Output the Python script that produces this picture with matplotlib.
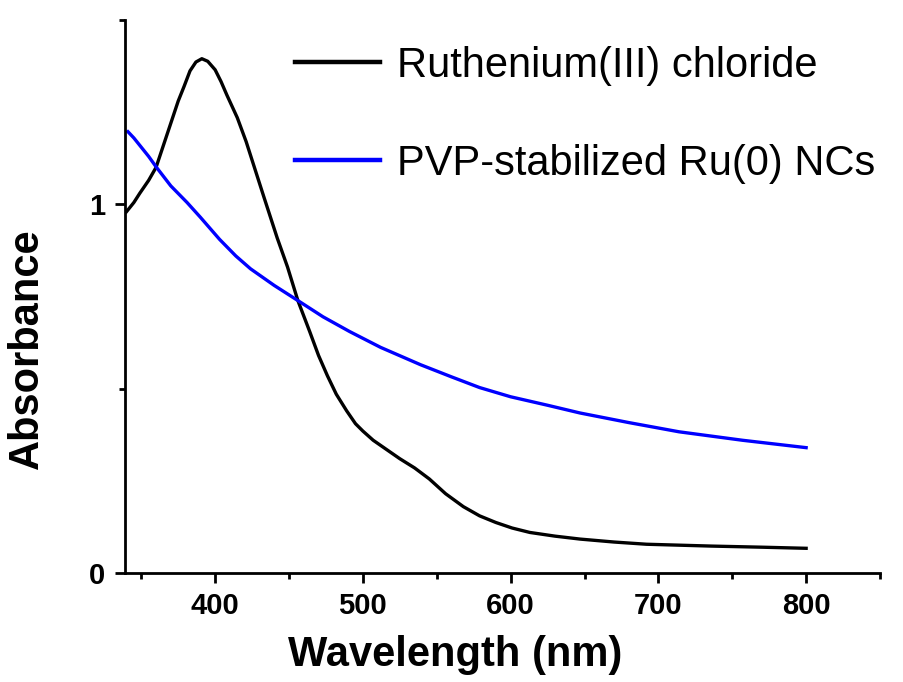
import numpy as np
import matplotlib
matplotlib.use("Agg")
import matplotlib.pyplot as plt
from matplotlib.ticker import MultipleLocator

# values
ru_cl3_wl = [340, 345, 349, 355, 360, 365, 370, 375, 379, 383, 387, 391, 395, 400, 404,
             408, 415, 421, 427, 433, 442, 449, 456, 464, 470, 476, 482, 489, 495, 500,
             507, 516, 525, 535, 545, 556, 568, 579, 590, 601, 613, 630, 647, 670, 692,
             736, 770, 800]
ru_cl3_abs = [0.98, 1.005, 1.03, 1.065, 1.10, 1.16, 1.22, 1.28, 1.32, 1.362, 1.386, 1.395,
              1.388, 1.365, 1.333, 1.296, 1.235, 1.17, 1.095, 1.02, 0.909, 0.83, 0.739,
              0.655, 0.59, 0.535, 0.485, 0.44, 0.405, 0.385, 0.36, 0.335, 0.31, 0.285,
              0.255, 0.215, 0.18, 0.155, 0.137, 0.122, 0.11, 0.10, 0.092, 0.084, 0.078,
              0.073, 0.07, 0.067]

ru_nc_wl = [341, 345, 349, 355, 360, 370, 381, 390, 403, 414, 424, 440, 456, 473, 491,
            512, 539, 560, 579, 600, 625, 647, 680, 714, 757, 800]
ru_nc_abs = [1.197, 1.18, 1.16, 1.13, 1.102, 1.05, 1.005, 0.965, 0.905, 0.86, 0.825, 0.78,
             0.739, 0.695, 0.655, 0.612, 0.565, 0.532, 0.503, 0.478, 0.455, 0.434, 0.408,
             0.383, 0.36, 0.34]

labels = ["Ruthenium(III) chloride", "PVP-stabilized Ru(0) NCs"]

plt.rcParams["font.family"] = ["Liberation Sans", "DejaVu Sans"]

fig = plt.figure(figsize=(9.04, 6.82), dpi=100)
ax = fig.add_axes([125 / 904, 1 - 573 / 682, 755 / 904, 553 / 682])

ax.plot(ru_cl3_wl, ru_cl3_abs, color="black", lw=2.4, label=labels[0])
ax.plot(ru_nc_wl, ru_nc_abs, color="#0000ff", lw=2.4, label=labels[1])

ax.set_xlim(339, 850)
ax.set_ylim(0, 1.5)

# only left and bottom axes
for side in ["top", "right"]:
    ax.spines[side].set_visible(False)
for side in ["left", "bottom"]:
    ax.spines[side].set_linewidth(2.0)

ax.xaxis.set_major_locator(MultipleLocator(100))
ax.xaxis.set_minor_locator(MultipleLocator(50))
ax.yaxis.set_major_locator(MultipleLocator(1))
ax.yaxis.set_minor_locator(MultipleLocator(0.5))
ax.tick_params(which="major", direction="out", length=7, width=2.0, labelsize=21, pad=7)
ax.tick_params(which="minor", direction="out", length=4, width=2.0)
for t in ax.get_xticklabels() + ax.get_yticklabels():
    t.set_fontweight("bold")

ax.set_xlabel("Wavelength (nm)", fontsize=30, fontweight="bold")
ax.set_ylabel("Absorbance", fontsize=30, fontweight="bold")
ax.xaxis.set_label_coords(0.437, -0.112)
ax.yaxis.set_label_coords(-0.103, 0.405)

leg = ax.legend(loc="upper left", bbox_to_anchor=(295 / 904, 1 - 46 / 682),
                bbox_transform=fig.transFigure, frameon=False, fontsize=30,
                handlelength=2.05, handletextpad=0.4, labelspacing=1.38,
                borderpad=0, borderaxespad=0)
for line in leg.get_lines():
    line.set_linewidth(3.2)

fig.savefig("out.png", dpi=100)
